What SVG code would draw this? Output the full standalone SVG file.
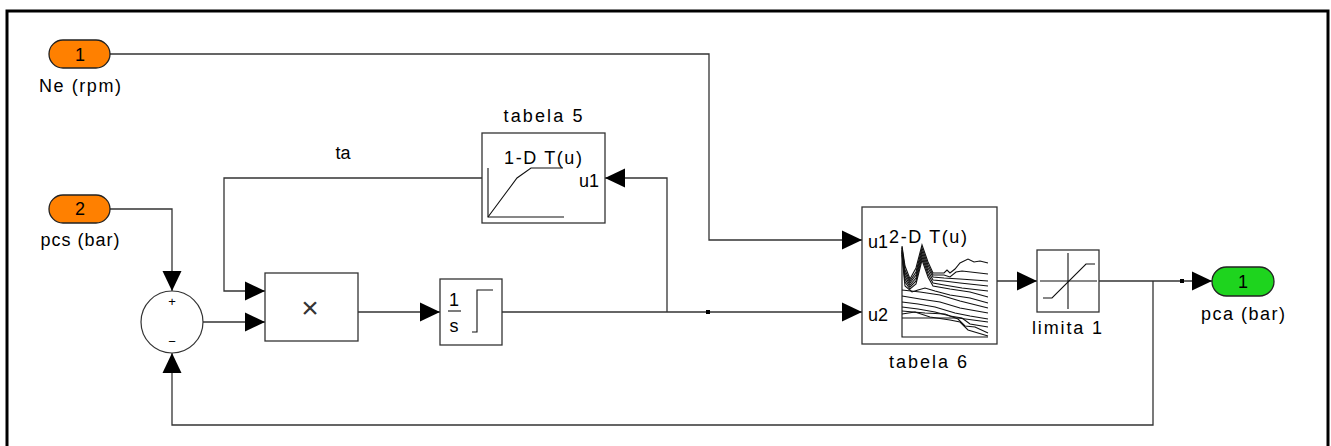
<svg xmlns="http://www.w3.org/2000/svg" width="1331" height="446" viewBox="0 0 1331 446">
<style>
.ln{fill:none;stroke:#333;stroke-width:1.3}
.blk{fill:#fff;stroke:#333;stroke-width:1.3}
.ic{fill:none;stroke:#111;stroke-width:1.1}
.t{font-family:"Liberation Sans",Arial,sans-serif;font-size:18px;fill:#000}
.m{text-anchor:middle}
.port{stroke:#222;stroke-width:1.3}
</style>
<defs>
<marker id="ar" markerUnits="userSpaceOnUse" markerWidth="20" markerHeight="20" refX="20" refY="10" orient="auto" viewBox="0 0 20 20">
<path d="M0,0.5 L20,10 L0,19.5 z" fill="#000"/>
</marker>
</defs>
<rect width="1331" height="446" fill="#fff"/>
<rect x="7" y="11" width="1321" height="500" fill="none" stroke="#000" stroke-width="3"/>

<g id="connectors">
<polyline class="ln" points="110,54 709,54 709,240 862,240" marker-end="url(#ar)"/>
<polyline class="ln" points="110,209 172,209 172,291" marker-end="url(#ar)"/>
<polyline class="ln" points="203,322 265,322" marker-end="url(#ar)"/>
<polyline class="ln" points="482,178 224,178 224,291 265,291" marker-end="url(#ar)"/>
<polyline class="ln" points="358,312 440,312" marker-end="url(#ar)"/>
<polyline class="ln" points="502,312 862,312" marker-end="url(#ar)"/>
<polyline class="ln" points="667,312 667,178 605,178" marker-end="url(#ar)"/>
<polyline class="ln" points="997,281 1037,281" marker-end="url(#ar)"/>
<polyline class="ln" points="1099,281 1212,281" marker-end="url(#ar)"/>
<polyline class="ln" points="1153,281 1153,425 172,425 172,353" marker-end="url(#ar)"/>
<rect x="706" y="310" width="4" height="4" fill="#000"/>
<rect x="1180" y="279" width="4" height="4" fill="#000"/>
<text class="t m" x="343" y="159">ta</text>
</g>

<g id="in1">
<rect class="port" x="49" y="40" width="61" height="28" rx="14" fill="#FF8000"/>
<text class="t m" x="80" y="61">1</text>
<text class="t m" x="80" y="92" textLength="82" lengthAdjust="spacing">Ne (rpm)</text>
</g>

<g id="in2">
<rect class="port" x="49" y="195" width="61" height="28" rx="14" fill="#FF8000"/>
<text class="t m" x="80" y="215">2</text>
<text class="t m" x="80" y="246" textLength="79" lengthAdjust="spacing">pcs (bar)</text>
</g>

<g id="sum">
<circle cx="172" cy="322" r="31" fill="#fff" stroke="#333" stroke-width="1.2"/>
<text class="t m" x="172" y="306" style="font-size:13px">+</text>
<text class="t m" x="172" y="346" style="font-size:13px">−</text>
</g>

<g id="product">
<rect class="blk" x="265" y="273" width="93" height="68"/>
<text class="t m" x="310" y="318" style="font-size:30px;font-weight:normal;fill:#333">×</text>
</g>

<g id="integrator">
<rect class="blk" x="440" y="279" width="62" height="66"/>
<text class="t m" x="454" y="306">1</text>
<line class="ic" x1="448" y1="311" x2="461" y2="311"/>
<text class="t m" x="454" y="332">s</text>
<polyline class="ic" points="472,332 477,332 477,290 493,290"/>
</g>

<g id="tabela5">
<rect class="blk" x="482" y="133" width="123" height="90"/>
<text class="t m" x="543" y="122" textLength="79" lengthAdjust="spacing">tabela 5</text>
<text class="t" x="504" y="164" textLength="78" lengthAdjust="spacing">1-D T(u)</text>
<text class="t" x="579" y="187">u1</text>
<polyline class="ic" points="488,168 488,217 564,217"/>
<polyline class="ic" points="488,217 517,178 531,168 563,168"/>
</g>

<g id="tabela6">
<rect class="blk" x="862" y="207" width="135" height="137"/>
<text class="t" x="868" y="248">u1</text>
<text class="t" x="889" y="243" textLength="78" lengthAdjust="spacing">2-D T(u)</text>
<text class="t" x="868" y="321">u2</text>
<text class="t m" x="928" y="368" textLength="78" lengthAdjust="spacing">tabela 6</text>
<polyline class="ic" points="902,247 902,337 988,337"/>
<g class="ic" stroke-width="1">
<polyline points="902,246 905,266 910,279 916,268 922,245 928,262 933,273 944,273 947,270 950,273 955,269 960,263 968,259 974,262 980,261 988,263"/>
<polyline points="902,248 905,270 910,281 916,272 922,248 928,265 933,275 944,275 950,277 956,272 962,271 988,274"/>
<polyline points="902,250 905,273 910,283 916,275 922,251 928,268 933,277 944,278 960,279 988,281"/>
<polyline points="902,251 905,276 910,285 916,278 922,254 928,271 933,280 944,281 960,283 988,286"/>
<polyline points="902,252 905,279 910,287 916,281 922,257 928,274 933,283 944,285 962,288 988,291"/>
<polyline points="902,253 905,282 910,289 916,284 922,260 928,277 933,286 950,289 970,292 988,297"/>
<polyline points="902,255 905,286 912,292 918,290 925,288 935,291 950,295 970,298 988,303"/>
<polyline points="902,290 920,292 940,295 960,301 988,308"/>
<polyline points="902,296 920,299 940,302 960,308 988,313"/>
<polyline points="902,302 918,304 935,307 955,313 970,316 988,319"/>
<polyline points="902,307 918,309 935,312 950,316 962,318 970,324 988,327"/>
<polyline points="902,311 925,313 945,314 958,319 965,326 975,327 988,333"/>
<polyline points="902,314 915,312 930,317 950,320 960,322 968,330 988,336"/>
<polyline points="902,318 940,318 958,318 988,322"/>
</g>
</g>

<g id="limita1">
<rect class="blk" x="1037" y="250" width="62" height="62"/>
<line class="ic" x1="1068" y1="253" x2="1068" y2="309"/>
<line class="ic" x1="1040" y1="281" x2="1097" y2="281"/>
<polyline class="ic" points="1043,298 1052,298 1086,264 1095,264"/>
<text class="t m" x="1067" y="334" textLength="70" lengthAdjust="spacing">limita 1</text>
</g>

<g id="out1">
<rect class="port" x="1212" y="267" width="62" height="29" rx="14.5" fill="#1ED41E"/>
<text class="t m" x="1243" y="288">1</text>
<text class="t m" x="1243" y="320" textLength="84" lengthAdjust="spacing">pca (bar)</text>
</g>
</svg>
